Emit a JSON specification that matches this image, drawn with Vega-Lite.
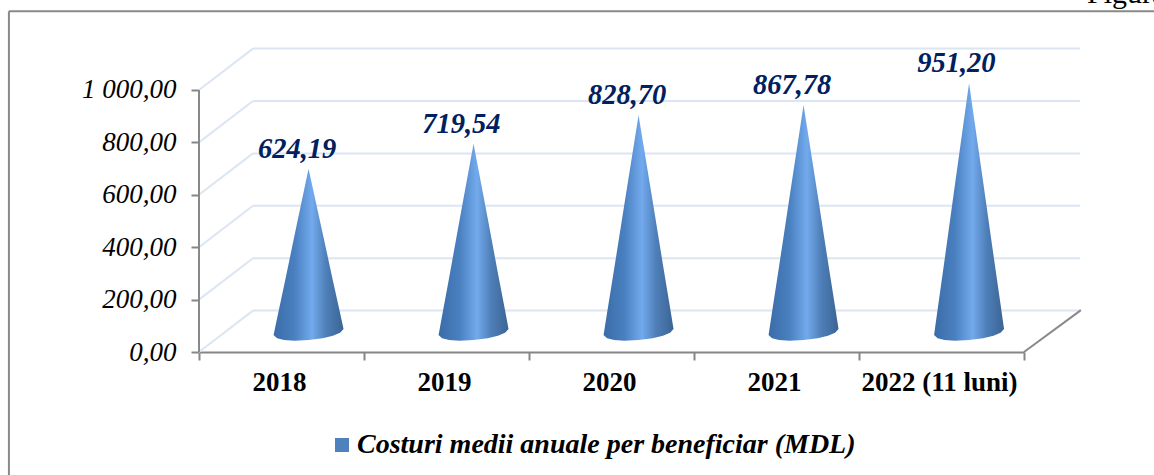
{"$schema":"https://vega.github.io/schema/vega-lite/v6.json","width":825,"height":352,"autosize":{"type":"none"},"padding":{"left":199,"top":0,"right":130,"bottom":123},"background":"white","config":{"view":{"stroke":null},"font":"Liberation Serif"},
"datasets":{
"grid":[
{"x":0,"x2":0.327,"y":0,"y2":158},{"x":0,"x2":0.327,"y":200,"y2":358},{"x":0,"x2":0.327,"y":400,"y2":558},{"x":0,"x2":0.327,"y":600,"y2":758},{"x":0,"x2":0.327,"y":800,"y2":958},{"x":0,"x2":0.327,"y":1000,"y2":1158},
{"x":0.327,"x2":5.34,"y":158,"y2":158},{"x":0.327,"x2":5.34,"y":358,"y2":358},{"x":0.327,"x2":5.34,"y":558,"y2":558},{"x":0.327,"x2":5.34,"y":758,"y2":758},{"x":0.327,"x2":5.34,"y":958,"y2":958},{"x":0.327,"x2":5.34,"y":1158,"y2":1158}],
"frame":[{"x":-1.152,"x2":-1.152,"y":-470,"y2":1301},{"x":-1.152,"x2":5.79,"y":1301,"y2":1301},{"x":5,"x2":5.345,"y":0,"y2":160},{"x":0,"x2":0,"y":0,"y2":1000}],
"cones":[
{"year":"2018","x":0.452,"top":64.5,"bottom":64.5},{"year":"2018","x":0.473,"top":127.95,"bottom":52.35},{"year":"2018","x":0.516,"top":254.85,"bottom":46.15},{"year":"2018","x":0.579,"top":445.2,"bottom":43.4},{"year":"2018","x":0.664,"top":699,"bottom":45.5},{"year":"2018","x":0.749,"top":454.4,"bottom":52.6},{"year":"2018","x":0.812,"top":271,"bottom":62.25},{"year":"2018","x":0.855,"top":148.65,"bottom":73.05},{"year":"2018","x":0.876,"top":87.5,"bottom":87.5},
{"year":"2019","x":1.452,"top":64.5,"bottom":64.5},{"year":"2019","x":1.473,"top":137.55,"bottom":52.35},{"year":"2019","x":1.516,"top":283.65,"bottom":46.15},{"year":"2019","x":1.579,"top":502.8,"bottom":43.4},{"year":"2019","x":1.664,"top":795,"bottom":45.5},{"year":"2019","x":1.749,"top":512,"bottom":52.6},{"year":"2019","x":1.812,"top":299.75,"bottom":62.25},{"year":"2019","x":1.855,"top":158.25,"bottom":73.05},{"year":"2019","x":1.876,"top":87.5,"bottom":87.5},
{"year":"2020","x":2.452,"top":64.5,"bottom":64.5},{"year":"2020","x":2.473,"top":148.45,"bottom":52.35},{"year":"2020","x":2.516,"top":316.35,"bottom":46.15},{"year":"2020","x":2.579,"top":568.2,"bottom":43.4},{"year":"2020","x":2.664,"top":904,"bottom":45.5},{"year":"2020","x":2.749,"top":577.4,"bottom":52.6},{"year":"2020","x":2.812,"top":332.45,"bottom":62.25},{"year":"2020","x":2.855,"top":169.15,"bottom":73.05},{"year":"2020","x":2.876,"top":87.5,"bottom":87.5},
{"year":"2021","x":3.452,"top":64.5,"bottom":64.5},{"year":"2021","x":3.473,"top":152.35,"bottom":52.35},{"year":"2021","x":3.516,"top":328.05,"bottom":46.15},{"year":"2021","x":3.579,"top":591.6,"bottom":43.4},{"year":"2021","x":3.664,"top":943,"bottom":45.5},{"year":"2021","x":3.749,"top":600.8,"bottom":52.6},{"year":"2021","x":3.812,"top":344.15,"bottom":62.25},{"year":"2021","x":3.855,"top":173.05,"bottom":73.05},{"year":"2021","x":3.876,"top":87.5,"bottom":87.5},
{"year":"2022","x":4.455,"top":64.5,"bottom":64.5},{"year":"2022","x":4.476,"top":160.65,"bottom":52.35},{"year":"2022","x":4.519,"top":352.95,"bottom":46.15},{"year":"2022","x":4.582,"top":641.4,"bottom":43.4},{"year":"2022","x":4.667,"top":1026,"bottom":45.5},{"year":"2022","x":4.752,"top":650.6,"bottom":52.6},{"year":"2022","x":4.815,"top":369.05,"bottom":62.25},{"year":"2022","x":4.858,"top":181.35,"bottom":73.05},{"year":"2022","x":4.879,"top":87.5,"bottom":87.5}],
"labels":[{"x":0.595,"apex":699,"label":"624,19"},{"x":1.59,"apex":795,"label":"719,54"},{"x":2.595,"apex":904,"label":"828,70"},{"x":3.595,"apex":943,"label":"867,78"},{"x":4.59,"apex":1026,"label":"951,20"}],
"series":[{"x":0.664,"y":0,"series":"Costuri medii anuale per beneficiar (MDL)"}],
"note":[{"x":5.382,"y":1332,"t":"Figura"}]
},
"layer":[
{"data":{"name":"grid"},"mark":{"type":"rule","color":"#dce6f2","strokeWidth":2},"encoding":{
"x":{"field":"x","type":"quantitative","scale":{"domain":[0,5],"nice":false,"zero":false},
"axis":{"title":null,"grid":false,"values":[0,1,2,3,4,5],"labelExpr":"datum.value==0?'2018':datum.value==1?'2019':datum.value==2?'2020':datum.value==3?'2021':datum.value==4?'2022 (11 luni)':''","labelOffset":80,"labelFont":"Liberation Serif","labelFontSize":27,"labelFontWeight":"bold","labelColor":"#000000","labelPadding":9,"labelOverlap":false,"labelBound":false,"labelFlush":false,"domainColor":"#868686","domainWidth":2,"tickColor":"#868686","tickWidth":2,"tickSize":8}},
"x2":{"field":"x2"},
"y":{"field":"y","type":"quantitative","scale":{"domain":[0,1343.5],"nice":false,"zero":false},
"axis":{"title":null,"grid":false,"values":[0,200,400,600,800,1000],"labelExpr":"replace(replace(format(datum.value,',.2f'),',',' '),'.',',')","labelFont":"Liberation Serif","labelFontSize":27,"labelFontStyle":"italic","labelColor":"#000000","labelPadding":15,"domain":false,"tickColor":"#868686","tickWidth":2,"tickSize":8,"labelBound":false,"labelOverlap":false}},
"y2":{"field":"y2"}}},
{"data":{"name":"frame"},"mark":{"type":"rule","color":"#898989","strokeWidth":2},"encoding":{"x":{"field":"x","type":"quantitative"},"x2":{"field":"x2"},"y":{"field":"y","type":"quantitative"},"y2":{"field":"y2"}}},
{"data":{"name":"cones"},"mark":{"type":"area","interpolate":"linear","color":{"gradient":"linear","x1":0,"x2":1,"y1":0,"y2":0,"stops":[{"offset":0,"color":"#3a6ca8"},{"offset":0.3,"color":"#4a80c0"},{"offset":0.55,"color":"#72aaed"},{"offset":0.75,"color":"#4f7fb8"},{"offset":1,"color":"#3a6494"}]}},"encoding":{"detail":{"field":"year"},"x":{"field":"x","type":"quantitative"},"y":{"field":"top","type":"quantitative"},"y2":{"field":"bottom"}}},
{"data":{"name":"labels"},"mark":{"type":"text","font":"Liberation Serif","fontSize":28.5,"fontWeight":"bold","fontStyle":"italic","color":"#002060","dy":-11,"baseline":"alphabetic"},"encoding":{"x":{"field":"x","type":"quantitative"},"y":{"field":"apex","type":"quantitative"},"text":{"field":"label"}}},
{"data":{"name":"note"},"mark":{"type":"text","font":"Liberation Serif","fontSize":30,"align":"left","baseline":"alphabetic","color":"#000000"},"encoding":{"x":{"field":"x","type":"quantitative"},"y":{"field":"y","type":"quantitative"},"text":{"field":"t"}}},
{"data":{"name":"series"},"mark":{"type":"point","filled":true,"size":0,"shape":"square"},"encoding":{"x":{"field":"x","type":"quantitative"},"y":{"field":"y","type":"quantitative"},"color":{"field":"series","type":"nominal","scale":{"range":["#4f81bd"]},"legend":{"title":null,"orient":"none","legendX":129,"legendY":431,"symbolType":"square","symbolSize":196,"symbolOpacity":1,"labelFont":"Liberation Serif","labelFontSize":28,"labelFontWeight":"bold","labelFontStyle":"italic","labelColor":"#000000","labelLimit":700,"labelOffset":1}}}}
]}
